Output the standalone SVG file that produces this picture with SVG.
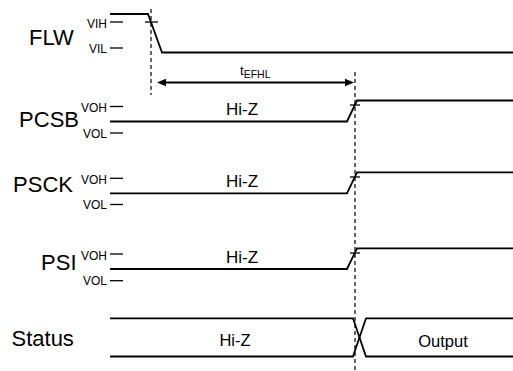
<svg xmlns="http://www.w3.org/2000/svg" width="513" height="371" viewBox="0 0 513 371">
<style>
text{font-family:"Liberation Sans",Arial,sans-serif;fill:#000}
.big{font-size:22px}
.lvl{font-size:12px;text-anchor:end}
.hz{font-size:17px;text-anchor:middle}
.sig{fill:none;stroke:#000;stroke-width:1.8}
.thin{fill:none;stroke:#000;stroke-width:1.3}
.dash{fill:none;stroke:#000;stroke-width:1.2;stroke-dasharray:4 3}
</style>
<rect width="513" height="371" fill="#fff"/>
<g id="FLW">
<text class="big" x="29" y="45">FLW</text>
<text class="lvl" x="107" y="28">VIH</text>
<text class="lvl" x="107" y="52.5">VIL</text>
<line class="thin" x1="110" y1="22" x2="123" y2="22"/>
<line class="thin" x1="110" y1="48" x2="123" y2="48"/>
<polyline class="sig" points="110,14 148,14 162,52.5 513,52.5"/>
<line class="thin" x1="145" y1="22" x2="158" y2="22"/>
</g>
<g id="PCSB">
<text class="big" x="79" y="127" text-anchor="end" font-size="23">PCSB</text>
<text class="lvl" x="107" y="111.5">VOH</text>
<text class="lvl" x="107" y="137.5">VOL</text>
<line class="thin" x1="110" y1="106.5" x2="123" y2="106.5"/>
<line class="thin" x1="110" y1="133" x2="123" y2="133"/>
<polyline class="sig" points="110,121.5 347,121.5 357,100.5 513,100.5"/>
<line class="thin" x1="350" y1="105" x2="360" y2="105"/>
<text class="hz" x="242" y="115">Hi-Z</text>
</g>
<g id="PSCK">
<text class="big" x="73" y="192" text-anchor="end">PSCK</text>
<text class="lvl" x="107" y="183.5">VOH</text>
<text class="lvl" x="107" y="209">VOL</text>
<line class="thin" x1="110" y1="178.3" x2="123" y2="178.3"/>
<line class="thin" x1="110" y1="204.5" x2="123" y2="204.5"/>
<polyline class="sig" points="110,193.3 347,193.3 357,172.3 513,172.3"/>
<line class="thin" x1="350" y1="177" x2="360" y2="177"/>
<text class="hz" x="242" y="187">Hi-Z</text>
</g>
<g id="PSI">
<text class="big" x="76.5" y="270" text-anchor="end">PSI</text>
<text class="lvl" x="107" y="259.5">VOH</text>
<text class="lvl" x="107" y="285">VOL</text>
<line class="thin" x1="110" y1="254" x2="123" y2="254"/>
<line class="thin" x1="110" y1="280.7" x2="123" y2="280.7"/>
<polyline class="sig" points="110,269 347,269 357,248.3 513,248.3"/>
<line class="thin" x1="350" y1="253" x2="360" y2="253"/>
<text class="hz" x="242" y="262.5">Hi-Z</text>
</g>
<g id="Status">
<text class="big" x="11.5" y="346">Status</text>
<polyline class="sig" points="110,318.3 353,318.3 366,356.5 513,356.5"/>
<polyline class="sig" points="110,356.5 353,356.5 366,318.3 513,318.3"/>
<text x="235" y="345.5" font-size="16.5" text-anchor="middle">Hi-Z</text>
<text x="443" y="346.5" font-size="16.5" text-anchor="middle">Output</text>
</g>
<g id="connectors">
<line class="dash" x1="151" y1="9" x2="151" y2="95"/>
<line class="dash" x1="355" y1="72" x2="355" y2="371"/>
<line class="sig" x1="163" y1="82.5" x2="348" y2="82.5"/>
<polygon points="157,82.5 166,78.8 166,86.2" fill="#000"/>
<polygon points="354,82.5 345,78.8 345,86.2" fill="#000"/>
<text x="240" y="75" font-size="13">t<tspan font-size="10.5" dy="3">EFHL</tspan></text>
</g>
</svg>
